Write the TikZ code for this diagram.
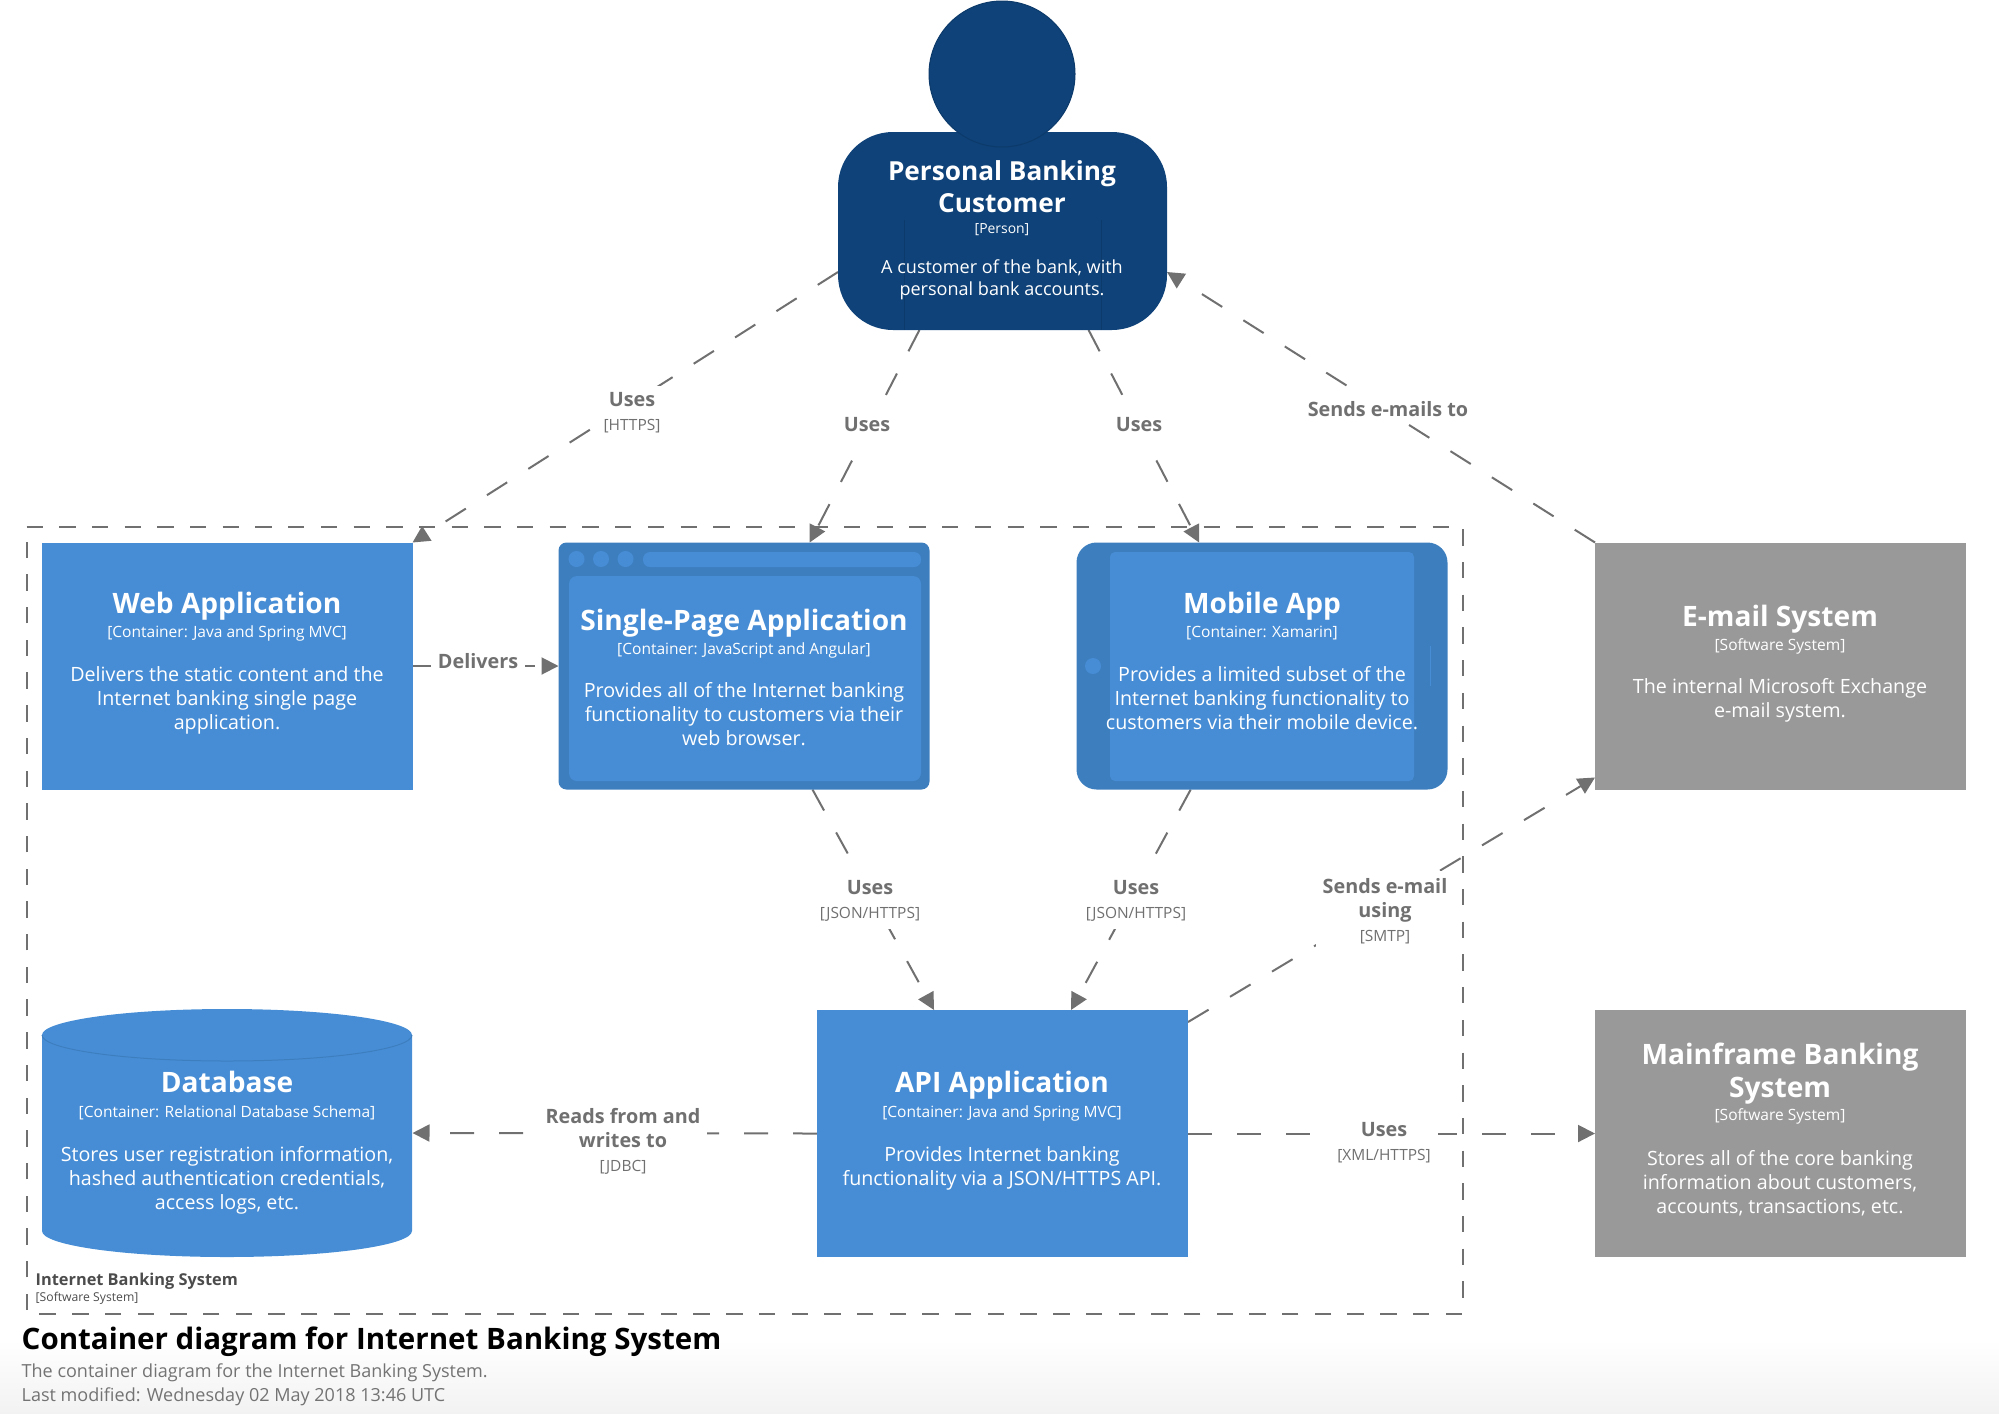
\documentclass[tikz,border=0pt]{standalone}
\usepackage{fontspec}
\setmainfont{Open Sans}
\usetikzlibrary{arrows.meta,backgrounds}
\definecolor{persondark}{HTML}{0F4278}
\definecolor{persondeep}{HTML}{0C3A6B}
\definecolor{appblue}{HTML}{478DD5}
\definecolor{appdeep}{HTML}{3D7EBF}
\definecolor{extgrey}{HTML}{999999}
\definecolor{linkgrey}{HTML}{707070}
\newcommand{\boxtitle}{\fontsize{8pt}{9.4pt}\selectfont\bfseries}
\newcommand{\boxtag}{\fontsize{4.42pt}{6pt}\selectfont}
\newcommand{\boxdesc}{\fontsize{5.6pt}{6.83pt}\selectfont}
\newcommand{\lbltitle}{\fontsize{5.63pt}{6.83pt}\selectfont\bfseries}
\newcommand{\lbltag}{\fontsize{4.4pt}{6.83pt}\selectfont\mdseries}
% title, tag and description of one box, each at its own height
\newcommand{\boxtext}[8]{
	\node[boxlabel,font=\boxtitle,yshift=1.13mm] (#1) at (#2,#3) {#6};
	\node[boxlabel,font=\boxtag,yshift=0.6mm] (#1tag) at (#2,#4) {#7};
	\node[boxlabel,font=\boxdesc,yshift=0.78mm] (#1desc) at (#2,#5) {#8};
}
\tikzset{
	appbox/.style={fill=appblue,minimum width=37.1mm,minimum height=24.7mm,inner sep=0pt,outer sep=0pt},
	extbox/.style={appbox,fill=extgrey},
	boxlabel/.style={text=white,align=center,anchor=north,inner sep=0pt},
	linklabel/.style={fill=white,text=linkgrey,font=\lbltitle,align=center,inner sep=2pt},
	link/.style={draw=linkgrey,line width=0.2mm,dash pattern=on 2.4mm off 2.5mm,-{Triangle[length=1.7mm,width=1.7mm]}},
}
\begin{document}
\begin{tikzpicture}[x=0.1mm,y=-0.1mm,line join=round]
	\useasboundingbox (0,0) rectangle (1999,1413);
	% person
	\node[fill=persondark,rounded corners=5.5mm,minimum width=32.9mm,minimum height=19.8mm,inner sep=0pt,outer sep=0pt] (person) at (1002.5,231) {};
	\node[circle,fill=persondark,draw=persondeep,line width=0.1mm,minimum size=14.6mm,inner sep=0pt] (head) at (1002,74) {};
	\draw[persondeep,line width=0.1mm] (904,220)--(904,330) (1101,220)--(1101,330);
	\node[boxlabel,font=\fontsize{7.46pt}{9.1pt}\selectfont\bfseries,yshift=1.1mm] (persontext) at (1002,171) {Personal Banking\\Customer};
	\node[boxlabel,font=\fontsize{3.96pt}{5pt}\selectfont,yshift=0.55mm] (persontexttag) at (1002,228) {[Person]};
	\node[boxlabel,font=\fontsize{5.14pt}{6.2pt}\selectfont,yshift=0.72mm] (persontextdesc) at (1002,266) {A customer of the bank, with\\personal bank accounts.};
	% containers
	\node[appbox] (web) at (227,666) {};
	\boxtext{webtext}{227}{603}{631}{674}{Web Application}{[Container: Java and Spring MVC]}{Delivers the static content and the\\Internet banking single page\\application.}
	\node[appbox,fill=appdeep,rounded corners=0.8mm] (spa) at (744,666) {};
	\fill[appblue,rounded corners=0.8mm] (569,576) rectangle (921,781);
	\fill[appblue,rounded corners=0.7mm] (643,552) rectangle (921,567);
	\foreach \i in {576.5,601,625.5}
	\fill[appblue] (\i,559) circle (8);
	\boxtext{spatext}{744}{620}{648}{690}{Single-Page Application}{[Container: JavaScript and Angular]}{Provides all of the Internet banking\\functionality to customers via their\\web browser.}
	\node[appbox,fill=appdeep,rounded corners=2mm] (mobile) at (1262,666) {};
	\fill[appblue,rounded corners=0.5mm] (1110,552) rectangle (1414,781);
	\fill[appblue] (1093,666) circle (8);
	\draw[appblue,line width=0.1mm] (1430,646)--(1430,686);
	\boxtext{mobiletext}{1262}{603}{631}{674}{Mobile App}{[Container: Xamarin]}{Provides a limited subset of the\\Internet banking functionality to\\customers via their mobile device.}
	\node[appbox] (api) at (1002.5,1133.5) {};
	\boxtext{apitext}{1002}{1082}{1111}{1154}{API Application}{[Container: Java and Spring MVC]}{Provides Internet banking\\functionality via a JSON/HTTPS API.}
	% database
	\node[minimum width=37.1mm,minimum height=24.7mm,inner sep=0pt,outer sep=0pt] (db) at (227,1133) {};
	\fill[appblue] (42,1035) arc[x radius=185,y radius=26,start angle=180,end angle=360]--(412,1231) arc[x radius=185,y radius=26,start angle=0,end angle=180]--cycle;
	\draw[appdeep,line width=0.1mm] (42,1035) arc[x radius=185,y radius=26,start angle=180,end angle=0];
	\boxtext{dbtext}{227}{1082}{1111}{1154}{Database}{[Container: Relational Database Schema]}{Stores user registration information,\\hashed authentication credentials,\\access logs, etc.}
	% external systems
	\node[extbox] (email) at (1780.5,666) {};
	\boxtext{emailtext}{1780}{616}{644}{686}{E-mail System}{[Software System]}{The internal Microsoft Exchange\\e-mail system.}
	\node[extbox] (mainframe) at (1780.5,1133.5) {};
	\boxtext{mainframetext}{1780}{1054}{1114}{1158}{Mainframe Banking\\System}{[Software System]}{Stores all of the core banking\\information about customers,\\accounts, transactions, etc.}
	% everything behind the boxes and labels
	\begin{scope}[on background layer]
		\shade[top color=white,bottom color=black!5] (0,1340) rectangle (1999,1413);
		\node[minimum width=143.6mm,minimum height=78.7mm,inner sep=0pt,outer sep=0pt] (boundary) at (744.5,920) {};
		\draw[linkgrey,line width=0.2mm,dash pattern=on 1.635mm off 1.635mm] (boundary.north west)--(boundary.north east)--(boundary.south east)--(boundary.south west)--cycle;
		\draw[link] (person.194)--(web.north east);
		\draw[link] (person.230)--(spa.62);
		\draw[link] (person.311.2)--(mobile.117.7);
		\draw[link] (email.north west)--(person.346);
		\draw[link] (web.east)--(spa.west);
		\draw[link] (spa.299.3)--(api.119);
		\draw[link] (mobile.240)--(api.61.7);
		\draw[link] (api.31)--(email.211);
		\draw[link] (api.west)--(db.east);
		\draw[link] (api.east)--(mainframe.west);
	\end{scope}
	% connector labels
	\node[linklabel] (lbla) at (632,413) {Uses\\ \lbltag [HTTPS]};
	\node[linklabel] (lblb) at (867,424.5) {Uses};
	\node[linklabel] (lblc) at (1139,424.5) {Uses};
	\node[linklabel] (lbld) at (1388,409) {Sends e-mails to};
	\node[linklabel] (lble) at (478,661) {Delivers};
	\node[linklabel] (lblf) at (870,901) {Uses\\ \lbltag [JSON/HTTPS]};
	\node[linklabel] (lblg) at (1136,901) {Uses\\ \lbltag [JSON/HTTPS]};
	\node[linklabel] (lblh) at (1385,911) {Sends e-mail\\using\\ \lbltag [SMTP]};
	\node[linklabel] (lbli) at (623,1141) {Reads from and\\writes to\\ \lbltag [JDBC]};
	\node[linklabel] (lblj) at (1384,1142.5) {Uses\\ \lbltag [XML/HTTPS]};
	% boundary name and page title
	\node[anchor=west,text=black!70,inner sep=0pt] (boundaryname) at (35,1281.5) {\fontsize{4.65pt}{6pt}\selectfont\bfseries Internet Banking System};
	\node[anchor=west,text=black!70,inner sep=0pt] (boundarytag) at (35,1298) {\fontsize{3.47pt}{5pt}\selectfont [Software System]};
	\node[anchor=west,inner sep=0pt] (diagramtitle) at (21,1342) {\fontsize{8.4pt}{10pt}\selectfont\bfseries Container diagram for Internet Banking System};
	\node[anchor=west,text=black!55,inner sep=0pt] (diagramsub) at (21,1372.5) {\fontsize{5.13pt}{6pt}\selectfont The container diagram for the Internet Banking System.};
	\node[anchor=west,text=black!55,inner sep=0pt] (diagramdate) at (21,1396.5) {\fontsize{5.13pt}{6pt}\selectfont Last modified: Wednesday 02 May 2018 13:46 UTC};
\end{tikzpicture}
\end{document}
